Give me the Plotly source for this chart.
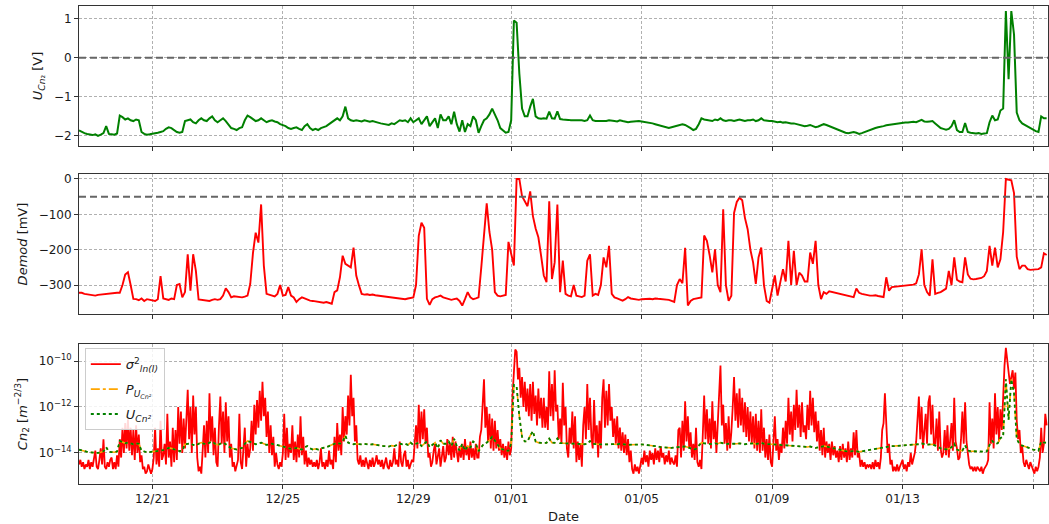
import pandas as pd
import numpy as np
import plotly.graph_objects as go

# Sensor channels: one reading every 2 hours, 2023-12-18 18:00 -> 2024-01-17 10:00
START = "2023-12-18 18:00"
STEP = "2h"
# Scintillation estimate: hourly readings over the same span
STEP_SIGMA = "1h"

# Cn2 sensor output voltage [V]
u_cn2_volts = [
    -1.86, -1.90, -1.93,
    -1.95, -1.97, -1.98, -1.96, -2.00, -1.97, -1.93, -1.75, -1.95, -1.96, -1.97, -1.94,
    -1.48, -1.52, -1.58, -1.55, -1.60, -1.62, -1.58, -1.60, -1.90, -1.95, -1.97, -1.96,
    -1.95, -1.93, -1.92, -1.90, -1.88, -1.82, -1.78, -1.80, -1.85, -1.90, -1.92, -1.90,
    -1.62, -1.60, -1.58, -1.65, -1.68, -1.60, -1.55, -1.60, -1.62, -1.55, -1.50, -1.60,
    -1.65, -1.60, -1.55, -1.62, -1.70, -1.80, -1.82, -1.85, -1.80, -1.78, -1.60, -1.48,
    -1.52, -1.58, -1.62, -1.60, -1.55, -1.60, -1.65, -1.62, -1.60, -1.63, -1.65, -1.70,
    -1.72, -1.75, -1.80, -1.82, -1.80, -1.78, -1.82, -1.85, -1.75, -1.70, -1.80, -1.85,
    -1.82, -1.85, -1.80, -1.78, -1.75, -1.70, -1.65, -1.60, -1.55, -1.60, -1.50, -1.25,
    -1.55, -1.60, -1.62, -1.60, -1.62, -1.63, -1.60, -1.62, -1.64, -1.62, -1.65, -1.66,
    -1.68, -1.70, -1.70, -1.72, -1.68, -1.70, -1.65, -1.60, -1.62, -1.60, -1.65, -1.55,
    -1.65, -1.60, -1.55, -1.70, -1.60, -1.50, -1.75, -1.65, -1.55, -1.80, -1.45, -1.60,
    -1.60, -1.50, -1.70, -1.38, -1.70, -1.89, -1.60, -1.90, -1.70, -1.75, -1.50, -1.60,
    -1.92, -1.75, -1.60, -1.55, -1.45, -1.30, -1.45, -1.60, -1.80, -1.85, -1.92, -1.90,
    -1.60, 0.96, 0.90, -0.40, -1.30, -1.50, -1.50, -1.25, -1.05, -1.50, -1.55, -1.56,
    -1.55, -1.56, -1.38, -1.55, -1.56, -1.37, -1.57, -1.58, -1.58, -1.59, -1.60, -1.60,
    -1.60, -1.61, -1.60, -1.62, -1.60, -1.48, -1.60, -1.62, -1.62, -1.63, -1.63, -1.62,
    -1.60, -1.62, -1.62, -1.63, -1.60, -1.62, -1.64, -1.65, -1.64, -1.63, -1.62, -1.62,
    -1.63, -1.64, -1.65, -1.66, -1.68, -1.70, -1.72, -1.75, -1.76, -1.78, -1.80, -1.78,
    -1.76, -1.75, -1.72, -1.70, -1.72, -1.75, -1.80, -1.85, -1.82, -1.70, -1.55, -1.58,
    -1.60, -1.60, -1.62, -1.58, -1.60, -1.55, -1.60, -1.62, -1.60, -1.60, -1.62, -1.60,
    -1.58, -1.60, -1.62, -1.60, -1.60, -1.58, -1.62, -1.60, -1.55, -1.60, -1.62, -1.62,
    -1.62, -1.63, -1.65, -1.64, -1.66, -1.65, -1.67, -1.68, -1.68, -1.70, -1.72, -1.74,
    -1.75, -1.74, -1.72, -1.75, -1.78, -1.76, -1.74, -1.70, -1.72, -1.75, -1.78, -1.80,
    -1.85, -1.88, -1.90, -1.92, -1.93, -1.92, -1.90, -1.92, -1.95, -1.93, -1.90, -1.88,
    -1.85, -1.82, -1.80, -1.78, -1.77, -1.75, -1.73, -1.72, -1.70, -1.70, -1.69, -1.68,
    -1.67, -1.66, -1.66, -1.65, -1.64, -1.65, -1.62, -1.59, -1.63, -1.64, -1.63, -1.62,
    -1.68, -1.75, -1.80, -1.82, -1.84, -1.82, -1.75, -1.60, -1.85, -1.90, -1.90, -1.67,
    -1.90, -1.92, -1.93, -1.94, -1.93, -1.95, -1.94, -1.93, -1.65, -1.48, -1.60, -1.58,
    -1.35, -1.30, 1.20, -0.55, 1.20, 0.60, -1.40, -1.60, -1.68, -1.72, -1.75, -1.80,
    -1.85, -1.88, -1.90, -1.50, -1.55, -1.55,
]

# Demodulator output [mV]
demod_mv = [
    -322, -322, -325,
    -326, -328, -330, -330, -328, -327, -325, -326, -324, -324, -323, -322,
    -322, -300, -270, -264, -300, -339, -340, -343, -338, -345, -340, -342,
    -343, -345, -340, -275, -338, -340, -342, -338, -340, -300, -297, -335,
    -320, -213, -316, -213, -260, -341, -342, -343, -344, -345, -342, -340,
    -342, -340, -330, -309, -320, -335, -332, -333, -334, -335, -333, -330,
    -297, -210, -152, -180, -72, -245, -325, -328, -330, -332, -325, -300,
    -330, -328, -306, -330, -335, -348, -340, -335, -338, -342, -344, -345,
    -346, -347, -348, -350, -348, -350, -353, -320, -315, -278, -217, -240,
    -245, -250, -194, -273, -301, -325, -327, -326, -328, -327, -329, -330,
    -330, -331, -333, -335, -336, -337, -338, -338, -339, -340, -338, -336,
    -335, -300, -161, -124, -138, -339, -356, -340, -335, -333, -330, -335,
    -338, -340, -342, -340, -338, -345, -358, -340, -320, -335, -340, -338,
    -335, -250, -160, -69, -150, -200, -320, -330, -332, -330, -328, -178,
    -208, -245, 0, 0, -49, -63, -77, -35, -105, -140, -165, -217,
    -273, -292, -63, -283, -236, -72, -320, -231, -325, -330, -332, -300,
    -330, -332, -334, -330, -231, -213, -330, -325, -328, -300, -222, -250,
    -189, -325, -335, -338, -340, -344, -340, -334, -338, -340, -341, -342,
    -340, -339, -338, -339, -340, -338, -339, -340, -341, -340, -342, -345,
    -348, -300, -283, -295, -195, -358, -345, -340, -338, -337, -335, -160,
    -175, -215, -264, -199, -300, -320, -86, -300, -345, -330, -96, -65,
    -53, -60, -110, -142, -200, -236, -297, -222, -194, -300, -345, -350,
    -306, -273, -330, -290, -255, -290, -175, -300, -203, -300, -265, -273,
    -290, -290, -208, -240, -175, -300, -340, -320, -325, -318, -320, -322,
    -324, -326, -328, -330, -331, -333, -334, -310, -322, -325, -327, -328,
    -330, -330, -329, -331, -333, -334, -278, -316, -306, -305, -304, -303,
    -303, -302, -301, -300, -299, -295, -270, -199, -300, -320, -330, -227,
    -325, -322, -320, -315, -310, -260, -300, -222, -285, -290, -292, -222,
    -270, -282, -284, -283, -282, -280, -275, -260, -189, -245, -194, -250,
    -227, -150, 0, -2, -4, -40, -220, -255, -245, -245, -255, -257,
    -257, -256, -255, -250, -210, -215,
]

# log10 of Cn2 [m^-2/3] from the log-intensity variance, one row per day
sigma2_log10_days = [
    [-14.5, -14.3, -14.6, -14.4, -14.7, -14.5],
    [-14.6, -14.3, -14.7, -14.4, -14.6, -14.2, -13.9, -14.6, -14.7, -14.3, -13.8, -14.5,
     -13.4, -14.6, -14.7, -14.4, -14.6, -14.3, -14.2, -14.7, -14.4, -14.7, -14.1, -14.6],
    [-13.4, -14.2, -12.9, -14.0, -12.7, -13.8, -12.55, -13.9, -12.9, -14.1, -13.0, -14.3,
     -12.8, -14.0, -13.2, -14.4, -14.1, -14.7, -14.6, -14.9, -14.8, -14.5, -14.7, -14.9],
    [-14.7, -14.2, -12.9, -14.5, -13.8, -14.6, -12.6, -14.3, -14.1, -13.6, -14.5, -12.3,
     -14.2, -13.5, -14.6, -12.9, -14.4, -13.0, -14.3, -12.0, -13.6, -12.2, -14.0, -12.5],
    [-13.8, -12.1, -11.25, -13.4, -12.0, -14.0, -11.5, -13.2, -12.0, -14.2, -14.8, -14.6,
     -14.9, -13.9, -12.8, -14.2, -12.6, -14.0, -11.4, -13.5, -12.4, -14.1, -12.9, -14.4],
    [-14.6, -12.8, -11.55, -13.6, -12.2, -14.0, -11.8, -13.5, -12.4, -14.2, -13.6, -14.6,
     -14.4, -14.8, -14.6, -14.3, -12.3, -14.4, -14.7, -13.8, -12.9, -14.6, -13.6, -14.2],
    [-13.8, -12.6, -13.9, -11.9, -13.2, -11.7, -12.9, -11.3, -12.6, -10.9, -12.4, -11.6,
     -13.3, -12.2, -14.0, -12.8, -14.1, -13.3, -14.6, -14.0, -14.5, -14.7, -14.4, -14.6],
    [-14.0, -12.3, -14.3, -12.9, -14.2, -13.6, -14.0, -12.8, -14.3, -13.5, -14.4, -13.2,
     -14.2, -12.4, -14.1, -13.3, -14.5, -13.9, -14.6, -14.2, -14.5, -14.3, -14.6, -14.4],
    [-14.6, -14.3, -14.7, -14.4, -13.8, -14.6, -14.4, -14.7, -14.3, -14.6, -13.9, -14.5,
     -14.3, -14.7, -13.3, -14.4, -12.7, -13.9, -13.2, -14.1, -12.0, -13.5, -12.4, -13.2],
    [-11.5, -12.8, -10.6, -12.4, -11.6, -13.5, -12.8, -14.3, -14.5, -14.1, -14.6, -14.3,
     -14.6, -14.2, -14.5, -14.7, -14.3, -14.6, -14.2, -14.6, -14.4, -14.1, -14.5, -14.3],
    [-14.6, -14.3, -14.7, -14.4, -14.2, -14.6, -14.7, -14.3, -14.6, -14.4, -13.8, -14.5,
     -14.3, -14.6, -13.5, -14.4, -14.6, -14.1, -13.9, -14.6, -14.3, -14.7, -14.5, -14.3],
    [-14.4, -13.5, -12.8, -13.8, -11.9, -13.6, -12.2, -13.4, -12.1, -13.6, -12.9, -14.2,
     -14.0, -14.6, -14.4, -13.9, -13.6, -14.5, -14.2, -13.8, -14.6, -14.1, -13.7, -14.4],
    [-14.2, -13.4, -14.1, -13.6, -14.3, -13.3, -14.2, -13.5, -13.9, -14.4, -13.7, -14.2,
     -13.6, -14.3, -13.4, -14.1, -13.7, -14.3, -13.5, -14.2, -13.8, -14.3, -13.6, -14.2],
    [-14.2, -13.3, -13.0, -11.8, -10.8, -12.9, -12.0, -13.5, -12.3, -13.8, -12.5, -13.9,
     -12.6, -13.8, -13.0, -13.9, -13.4, -14.1, -13.6, -14.2, -13.7, -14.3, -13.5, -14.1],
    [-13.8, -11.5, -10.2, -9.5, -9.6, -10.8, -10.3, -11.6, -10.7, -12.0, -10.9, -12.2,
     -11.2, -12.4, -11.0, -12.6, -10.9, -12.3, -11.5, -12.8, -11.2, -12.5, -11.6, -12.9],
    [-11.6, -12.9, -12.0, -13.0, -10.45, -12.4, -11.0, -12.6, -10.4, -12.2, -11.9, -13.4,
     -12.5, -13.6, -10.95, -12.8, -12.0, -13.8, -14.2, -12.9, -13.6, -12.2, -13.8, -12.4],
    [-14.4, -13.5, -14.3, -13.6, -14.6, -12.8, -12.0, -13.4, -11.0, -13.0, -11.6, -13.3,
     -13.8, -11.7, -13.6, -12.8, -14.2, -12.6, -13.8, -11.6, -10.8, -12.9, -11.3, -12.8],
    [-11.0, -12.6, -12.0, -13.3, -12.5, -13.6, -12.4, -13.8, -12.9, -13.9, -13.1, -14.0,
     -13.2, -14.1, -13.4, -14.4, -13.9, -14.7, -14.9, -14.5, -14.8, -14.6, -14.9, -14.5],
    [-14.2, -14.5, -13.9, -14.4, -14.1, -14.6, -13.9, -14.3, -14.0, -14.5, -13.8, -14.3,
     -13.9, -14.4, -13.7, -14.2, -14.0, -14.5, -14.1, -14.4, -13.9, -14.5, -14.2, -14.4],
    [-14.5, -14.1, -14.6, -13.0, -12.9, -14.2, -12.6, -13.9, -11.75, -13.5, -12.4, -13.8,
     -13.1, -14.2, -13.6, -14.3, -12.9, -14.4, -14.6, -14.3, -14.7, -13.2, -11.5, -13.4],
    [-12.1, -13.6, -12.5, -13.8, -11.75, -13.4, -12.6, -14.0, -12.9, -11.5, -10.2, -12.8,
     -11.9, -13.6, -12.7, -13.9, -12.4, -13.8, -13.1, -12.0, -10.7, -12.6, -11.4, -12.9],
    [-11.2, -12.8, -11.6, -13.1, -11.8, -13.3, -12.0, -13.5, -12.2, -13.6, -12.4, -13.8,
     -12.3, -13.9, -12.6, -14.0, -12.1, -13.9, -12.9, -14.2, -13.4, -14.3, -13.2, -14.4],
    [-14.6, -13.5, -12.4, -13.9, -13.4, -14.3, -13.6, -14.0, -12.9, -13.8, -12.6, -13.6,
     -11.6, -13.2, -12.2, -13.5, -11.9, -13.0, -11.25, -12.9, -11.9, -13.3, -11.8, -13.1],
    [-12.8, -13.4, -11.9, -13.0, -11.3, -12.8, -11.6, -13.1, -12.2, -13.5, -12.6, -13.9,
     -13.0, -14.1, -12.9, -14.2, -13.5, -14.0, -13.6, -14.3, -13.5, -14.1, -13.7, -14.2],
    [-13.9, -14.4, -13.7, -14.3, -13.6, -14.2, -13.8, -14.4, -13.5, -14.3, -13.8, -14.2,
     -13.1, -14.1, -13.0, -14.2, -14.0, -14.6, -14.3, -14.6, -14.4, -14.7, -14.5, -14.6],
    [-14.5, -14.7, -14.4, -14.7, -14.3, -14.6, -14.4, -14.7, -14.2, -13.0, -12.7, -11.4,
     -12.6, -14.0, -13.6, -14.5, -14.3, -14.8, -14.6, -14.8, -14.5, -14.8, -14.6, -14.4],
    [-14.3, -14.7, -14.5, -14.8, -14.4, -14.6, -14.0, -14.5, -14.3, -14.0, -13.5, -12.2,
     -11.55, -13.4, -12.0, -13.8, -13.0, -12.3, -13.6, -11.8, -11.5, -13.2, -11.9, -13.6],
    [-13.6, -12.5, -13.9, -12.2, -13.8, -14.2, -14.0, -13.0, -14.1, -12.8, -14.2, -13.2,
     -12.7, -13.9, -11.6, -13.5, -13.8, -14.3, -14.2, -13.4, -12.2, -13.6, -11.8, -13.5],
    [-14.0, -14.5, -14.7, -14.6, -14.8, -14.6, -14.8, -14.6, -14.7, -14.8, -14.6, -14.9,
     -14.7, -14.6, -14.5, -14.3, -11.8, -13.6, -12.5, -13.8, -11.4, -13.2, -12.0, -13.5],
    [-12.1, -13.0, -11.2, -10.2, -9.43, -9.9, -10.3, -11.0, -10.7, -10.4, -11.2, -10.5,
     -12.6, -13.4, -13.0, -14.0, -13.7, -14.4, -14.6, -14.3, -14.5, -14.7, -14.4, -14.6],
    [-14.7, -14.9, -14.6, -14.8, -14.6, -14.2, -12.9, -14.0, -13.6, -12.3, -12.8],
]

# Sensor calibration: log10(Cn2) = U [V] + offset
CAL_OFFSET = -12.0

tick_dates = ["2023-12-21", "2023-12-25", "2023-12-29", "2024-01-01",
              "2024-01-05", "2024-01-09", "2024-01-13", "2024-01-17"]
tick_labels = ["12/21", "12/25", "12/29", "01/01", "01/05", "01/09", "01/13", "01/17"]

n = len(u_cn2_volts)
assert n == len(demod_mv)
assert all(len(d) == 24 for d in sigma2_log10_days[1:-1])
t = pd.date_range(START, periods=n, freq=STEP)

sigma2_log10 = [v for day in sigma2_log10_days for v in day]
t_sigma = pd.date_range(START, periods=len(sigma2_log10), freq=STEP_SIGMA)

u_v = np.array(u_cn2_volts)
cn2_u = 10.0 ** (u_v + CAL_OFFSET)
cn2_p = 10.0 ** (u_v + CAL_OFFSET)
cn2_sigma = 10.0 ** np.array(sigma2_log10)

FONT = "DejaVu Sans"
TXT = "#1a1a1a"

fig = go.Figure()
fig.add_trace(go.Scatter(x=t, y=u_v, mode="lines", line=dict(color="green", width=2),
                         xaxis="x", yaxis="y", showlegend=False))
fig.add_trace(go.Scatter(x=t, y=demod_mv, mode="lines", line=dict(color="red", width=1.9),
                         xaxis="x2", yaxis="y2", showlegend=False))
fig.add_trace(go.Scatter(x=t_sigma, y=cn2_sigma, mode="lines", line=dict(color="red", width=1.8),
                         xaxis="x3", yaxis="y3", legendgroup="a",
                         name="<i>σ</i><sup>2</sup><sub><i>ln(I)</i></sub>"))
fig.add_trace(go.Scatter(x=t, y=cn2_p, mode="lines",
                         line=dict(color="orange", width=1.6, dash="dashdot"),
                         xaxis="x3", yaxis="y3", legendgroup="b",
                         name="<i>P</i><sub><i>U</i><sub><i>Cn²</i></sub></sub>"))
fig.add_trace(go.Scatter(x=t, y=cn2_u, mode="lines",
                         line=dict(color="green", width=1.8, dash="dot"),
                         xaxis="x3", yaxis="y3", legendgroup="c",
                         name="<i>U</i><sub><i>Cn²</i></sub>"))

x_range = ["2023-12-18 18:00", "2024-01-17 11:00"]
common_x = dict(range=x_range, type="date", tickvals=tick_dates, ticktext=tick_labels,
                showgrid=True, gridcolor="#b0b0b0", griddash="3px,2px", gridwidth=0.8,
                showline=True, mirror=True, linecolor="#333333", linewidth=1,
                ticks="outside", ticklen=4, tickcolor="#333333",
                tickfont=dict(family=FONT, size=12, color=TXT), zeroline=False)
common_y = dict(showgrid=True, gridcolor="#b0b0b0", griddash="3px,2px", gridwidth=0.8,
                showline=True, mirror=True, linecolor="#333333", linewidth=1,
                ticks="outside", ticklen=4, tickcolor="#333333",
                tickfont=dict(family=FONT, size=12, color=TXT), zeroline=False)

fig.update_layout(
    width=1049, height=524,
    margin=dict(l=79, r=1, t=6, b=40),
    paper_bgcolor="white", plot_bgcolor="white",
    font=dict(family=FONT, size=12, color=TXT),
    xaxis=dict(common_x, domain=[0, 1], anchor="y", showticklabels=False, matches="x3"),
    xaxis2=dict(common_x, domain=[0, 1], anchor="y2", showticklabels=False, matches="x3"),
    xaxis3=dict(common_x, domain=[0, 1], anchor="y3",
                title=dict(text="Date", font=dict(family=FONT, size=13, color=TXT), standoff=6)),
    yaxis=dict(common_y, domain=[0.7071, 1.0], anchor="x", range=[-2.26, 1.33],
               tickvals=[-2, -1, 0, 1], ticktext=["−2", "−1", "0", "1"],
               title=dict(text="<i>U</i><sub><i>Cn</i>₂</sub> [V]",
                          font=dict(family=FONT, size=13, color=TXT), standoff=8)),
    yaxis2=dict(common_y, domain=[0.3556, 0.6485], anchor="x2", range=[-382, 14],
                tickvals=[0, -100, -200, -300], ticktext=["0", "−100", "−200", "−300"],
                title=dict(text="<i>Demod</i> [mV]",
                           font=dict(family=FONT, size=13, color=TXT), standoff=8)),
    yaxis3=dict(common_y, domain=[0.0, 0.2929], anchor="x3", type="log",
                range=[-15.35, -9.26], tickvals=[1e-14, 1e-12, 1e-10],
                ticktext=["10<sup>−14</sup>", "10<sup>−12</sup>", "10<sup>−10</sup>"],
                title=dict(text="<i>Cn</i><sub>2</sub> [<i>m</i><sup>−2/3</sup>]",
                           font=dict(family=FONT, size=13, color=TXT), standoff=8)),
    legend=dict(x=0.006, y=0.284, xanchor="left", yanchor="top",
                bgcolor="rgba(255,255,255,0.85)", bordercolor="#cccccc", borderwidth=1,
                font=dict(family=FONT, size=13, color=TXT),
                traceorder="grouped", tracegroupgap=5),
    shapes=[
        dict(type="line", xref="x domain", yref="y", x0=0, x1=1, y0=0, y1=0,
             line=dict(color="#666666", width=2, dash="7px,4px")),
        dict(type="line", xref="x2 domain", yref="y2", x0=0, x1=1, y0=-50, y1=-50,
             line=dict(color="#666666", width=2, dash="7px,4px")),
    ],
)

fig.write_html("out.html")
